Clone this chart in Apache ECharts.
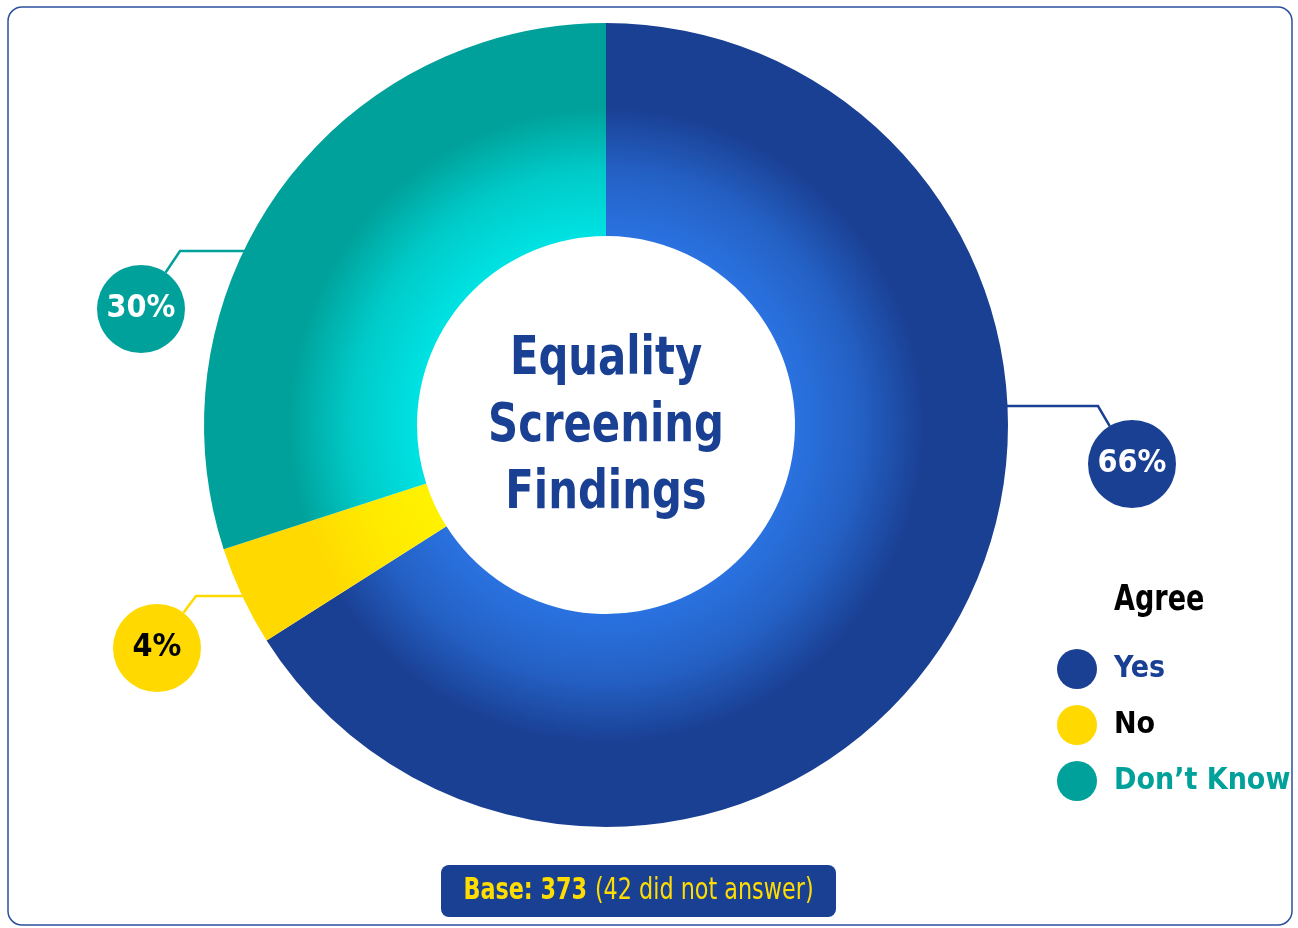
<!DOCTYPE html>
<html>
<head>
<meta charset="utf-8">
<script src="https://cdn.jsdelivr.net/npm/echarts@6/dist/echarts.min.js"></script>
<style>
html,body{margin:0;padding:0;background:#fff;}
#main{width:1298px;height:928px;}
</style>
</head>
<body>
<div id="main"></div>
<script>
// ---- data ----
var categories = ['Yes', 'No', "Don\u2019t Know"];
var shares = [66, 4, 30];
var legendTitle = 'Agree';
var centerTitle = 'Equality\nScreening\nFindings';
var baseCount = 373;
var notAnswered = 42;

// ---- styling ----
var FONT = '"Liberation Sans Narrow", "DejaVu Sans Condensed", "Arial Narrow", sans-serif';
var BLUE = '#1a4094', YELLOW = '#ffd900', TEAL = '#00a19a';
var sliceColors = [BLUE, YELLOW, TEAL];
var innerColors = ['#2a72e0', '#fff200', '#00e2e2'];
var labelText = ['#ffffff', '#000000', '#ffffff'];
var legendTextColors = [BLUE, '#000000', TEAL];
var NARROW = 0.86;

var CX = 606, CY = 425, R_OUT = 402, R_IN = 189;

// label callout placement (relative to pie centre)
var callouts = [
  { dy: -19, side: 1, elbow: 492, cdx: 526, cdy: 39 },
  { dy: 171, side: -1, elbow: 410, cdx: 449, cdy: 223 },
  { dy: -174, side: -1, elbow: 426, cdx: 465, cdy: -116 }
];

function grad(i) {
  return {
    type: 'radial', x: CX, y: CY, r: R_OUT, global: true,
    colorStops: [
      { offset: 0, color: innerColors[i] },
      { offset: 0.47, color: innerColors[i] },
      { offset: 0.63, color: echarts.color.lerp(0.35, [innerColors[i], sliceColors[i]]) },
      { offset: 0.79, color: sliceColors[i] },
      { offset: 1, color: sliceColors[i] }
    ]
  };
}

var pieData = categories.map(function (c, i) {
  return {
    name: c,
    value: shares[i],
    itemStyle: { color: grad(i) },
    label: {
      backgroundColor: sliceColors[i],
      color: labelText[i]
    },
    labelLine: { lineStyle: { color: sliceColors[i] } }
  };
});

var chart = echarts.init(document.getElementById('main'), null, { renderer: 'canvas' });

var option = {
  animation: false,
  legend: {
    orient: 'vertical',
    left: 1052, top: 644,
    icon: 'circle',
    itemWidth: 64, itemHeight: 40, itemGap: 16,
    textStyle: { fontFamily: FONT, fontWeight: 'bold', fontSize: 30 },
    data: categories.map(function (c, i) {
      return { name: c, itemStyle: { color: sliceColors[i] }, textStyle: { color: legendTextColors[i] } };
    })
  },
  graphic: [
    {
      type: 'rect', silent: true,
      shape: { x: 8, y: 7, width: 1284, height: 918, r: 14 },
      style: { fill: 'none', stroke: '#2c4f9e', lineWidth: 1.5 }
    },
    {
      type: 'text', silent: true,
      x: CX, y: CY + 2, scaleX: NARROW,
      style: {
        text: centerTitle, align: 'center', verticalAlign: 'middle',
        fontFamily: FONT, fontWeight: 'bold', fontSize: 54, lineHeight: 67, fill: BLUE
      }
    },
    {
      type: 'text', silent: true,
      x: 1114, y: 601, scaleX: NARROW,
      style: {
        text: legendTitle, align: 'left', verticalAlign: 'middle',
        fontFamily: FONT, fontWeight: 'bold', fontSize: 35, fill: '#000'
      }
    },
    {
      type: 'rect', silent: true,
      shape: { x: 441, y: 865, width: 395, height: 52, r: 8 },
      style: { fill: BLUE }
    },
    {
      type: 'text', silent: true,
      x: 638.5, y: 891, scaleX: 0.8,
      style: {
        text: '{b|Base: ' + baseCount + ' }{n|(' + notAnswered + ' did not answer)}',
        align: 'center', verticalAlign: 'middle',
        rich: {
          b: { fontFamily: FONT, fontWeight: 'bold', fontSize: 31, fill: '#ffdd00' },
          n: { fontFamily: FONT, fontWeight: 'normal', fontSize: 31, fill: '#ffdd00' }
        }
      }
    }
  ],
  series: [{
    type: 'pie',
    center: [CX, CY],
    radius: [R_IN, R_OUT],
    startAngle: 90,
    clockwise: true,
    avoidLabelOverlap: false,
    data: pieData,
    itemStyle: { borderWidth: 0 },
    label: {
      show: true,
      position: 'outside',
      formatter: '{d}%',
      fontFamily: FONT, fontWeight: 'bold', fontSize: 32,
      width: 88, height: 80, lineHeight: 80, borderRadius: 44,
      align: 'center', padding: [8, 0, 0, 0]
    },
    labelLine: { show: true, lineStyle: { width: 2.5 } },
    labelLayout: function (p) {
      var c = callouts[p.dataIndex];
      var ax = CX + c.side * Math.sqrt(R_OUT * R_OUT - c.dy * c.dy) - c.side * 1;
      var ay = CY + c.dy;
      var ex = CX + c.side * c.elbow;
      var lx = CX + c.side * c.cdx, ly = CY + c.cdy;
      var vx = lx - ex, vy = ly - ay, len = Math.sqrt(vx * vx + vy * vy);
      var t = (len - 44) / len;
      return {
        x: lx, y: ly,
        align: 'center', verticalAlign: 'middle',
        labelLinePoints: [[ax, ay], [ex, ay], [ex + vx * t, ay + vy * t]]
      };
    },
    emphasis: { disabled: true }
  }]
};
chart.setOption(option);
</script>
</body>
</html>
